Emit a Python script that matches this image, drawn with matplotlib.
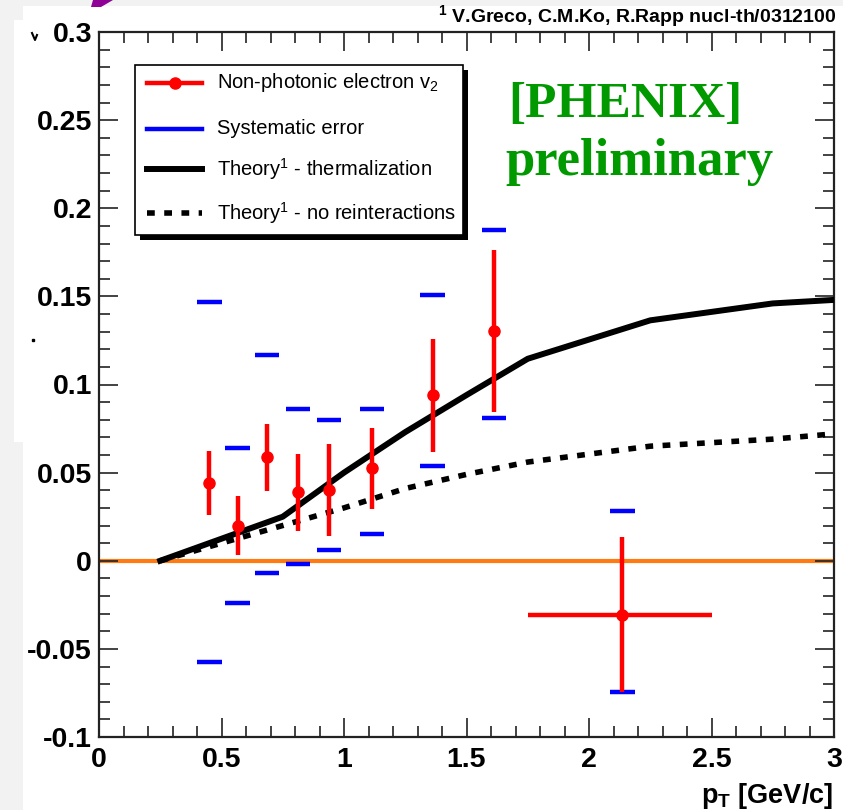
import matplotlib
matplotlib.use("Agg")
import matplotlib.pyplot as plt
from matplotlib.patches import Rectangle, Polygon
from matplotlib.lines import Line2D
from matplotlib.ticker import MultipleLocator, FixedLocator, FixedFormatter

plt.rcParams['font.family'] = ['Liberation Sans', 'DejaVu Sans']
plt.rcParams['mathtext.fontset'] = 'custom'
plt.rcParams['mathtext.rm'] = 'Liberation Sans'
plt.rcParams['mathtext.it'] = 'Liberation Sans:italic'
plt.rcParams['mathtext.bf'] = 'Liberation Sans:bold'

# ---- measured non-photonic electron v2 ----
pt = [0.45, 0.566, 0.686, 0.812, 0.939, 1.114, 1.362, 1.612, 2.136]
v2 = [0.044, 0.020, 0.0586, 0.0388, 0.0403, 0.0526, 0.0938, 0.1305, -0.0306]
stat_err = [0.018, 0.017, 0.019, 0.022, 0.026, 0.023, 0.032, 0.046, 0.044]
pt_err_lo = [0, 0, 0, 0, 0, 0, 0, 0, 0.386]
pt_err_hi = [0, 0, 0, 0, 0, 0, 0, 0, 0.364]
sys_hi = [0.1466, 0.064, 0.1165, 0.0859, 0.0798, 0.0859, 0.1508, 0.1877, 0.028]
sys_lo = [-0.0573, -0.0238, -0.0068, -0.0017, 0.0062, 0.0149, 0.0535, 0.0808, -0.0743]

# ---- model curves (Greco, Ko, Rapp) ----
theory_pt = [0.25, 0.5, 0.75, 1.0, 1.25, 1.5, 1.75, 2.25, 2.75, 3.0]
theory_therm = [0.0, 0.0125, 0.025, 0.050, 0.073, 0.094, 0.1146, 0.1364, 0.146, 0.148]
theory_noreint = [0.0, 0.010, 0.020, 0.030, 0.041, 0.049, 0.056, 0.065, 0.069, 0.072]

yticks = [-0.1, -0.05, 0, 0.05, 0.1, 0.15, 0.2, 0.25, 0.3]
ytick_labels = ['-0.1', '-0.05', '0', '0.05', '0.1', '0.15', '0.2', '0.25', '0.3']
xticks = [0, 0.5, 1, 1.5, 2, 2.5, 3]
xtick_labels = ['0', '0.5', '1', '1.5', '2', '2.5', '3']

legend_labels = ['Non-photonic electron v$_2$', 'Systematic error',
                 'Theory$^1$ - thermalization', 'Theory$^1$ - no reinteractions']

W, H = 843, 810
fig = plt.figure(figsize=(W / 100, H / 100), dpi=100)
fig.patch.set_facecolor('#f2f2f2')


def fx(px):
    return px / W


def fy(py):
    return 1 - py / H


# white slide panels
fig.patches.append(Rectangle((fx(23), 0), 1 - fx(23), fy(6), transform=fig.transFigure,
                             facecolor='white', edgecolor='none', zorder=-10))
fig.patches.append(Rectangle((fx(14), fy(442)), fx(23) - fx(14), fy(20) - fy(442),
                             transform=fig.transFigure, facecolor='white', edgecolor='none', zorder=-10))
fig.patches.append(Polygon([(fx(93), fy(0)), (fx(113), fy(0)), (fx(101), fy(7)), (fx(91), fy(7))],
                           closed=True, transform=fig.transFigure, facecolor='#8e0096',
                           edgecolor='none', zorder=-5))

ax = fig.add_axes([fx(99), fy(737), fx(834) - fx(99), fy(32) - fy(737)])
ax.set_xlim(0, 3)
ax.set_ylim(-0.1, 0.3)

# zero line
ax.axhline(0, color='#ff7b12', lw=3, zorder=1)

# model curves
ax.plot(theory_pt, theory_therm, color='black', lw=4.3, solid_joinstyle='round', zorder=3)
ax.plot(theory_pt, theory_noreint, color='black', lw=4.0, dashes=(1.4, 1.7), zorder=3)

# systematic error bars
for x, hi, lo in zip(pt, sys_hi, sys_lo):
    ax.hlines([hi, lo], x - 0.05, x + 0.05, color='#0000ff', lw=3.2, zorder=4)

# data points with statistical errors
ax.errorbar(pt, v2, yerr=stat_err, xerr=[pt_err_lo, pt_err_hi], fmt='o', color='#ff0000',
            ms=8, elinewidth=3.2, capsize=0, zorder=5)

# axes styling
for s in ax.spines.values():
    s.set_linewidth(1.6)
    s.set_color('#222222')
ax.xaxis.set_major_locator(FixedLocator(xticks))
ax.xaxis.set_major_formatter(FixedFormatter(xtick_labels))
ax.yaxis.set_major_locator(FixedLocator(yticks))
ax.yaxis.set_major_formatter(FixedFormatter(ytick_labels))
ax.xaxis.set_minor_locator(MultipleLocator(0.1))
ax.yaxis.set_minor_locator(MultipleLocator(0.01))
ax.tick_params(which='both', direction='in', top=True, right=True, color='#222222')
ax.tick_params(which='major', length=14, width=1.2)
ax.tick_params(which='minor', length=8, width=1.2)
ax.tick_params(axis='x', which='major', pad=7)
ax.tick_params(axis='y', which='major', pad=5)
for lab in ax.get_xticklabels() + ax.get_yticklabels():
    lab.set_fontsize(20.5)
    lab.set_fontweight('bold')

# x-axis title
fig.text(fx(833), fy(803), r'$\mathbf{p_{T}}$ [GeV/c]', ha='right', va='baseline',
         fontsize=19.5, fontweight='bold')

# reference line at top
fig.text(fx(836), fy(22), r'$^\mathbf{1}$ V.Greco, C.M.Ko, R.Rapp nucl-th/0312100', ha='right',
         va='baseline', fontsize=14, fontweight='bold')

# PHENIX preliminary tag
fig.text(fx(508), fy(117), '[PHENIX]', ha='left', va='baseline', fontsize=37,
         fontweight='bold', family='Liberation Serif', color='#009900')
fig.text(fx(505), fy(175), 'preliminary', ha='left', va='baseline', fontsize=38,
         fontweight='bold', family='Liberation Serif', color='#009900')

# legend box with shadow
bx0, by0, bx1, by1 = 135, 65, 463, 235
fig.patches.append(Rectangle((fx(bx0 + 5), fy(by1 + 5)), fx(bx1) - fx(bx0), fy(by0) - fy(by1),
                             transform=fig.transFigure, facecolor='black', edgecolor='none', zorder=20))
fig.patches.append(Rectangle((fx(bx0), fy(by1)), fx(bx1) - fx(bx0), fy(by0) - fy(by1),
                             transform=fig.transFigure, facecolor='white', edgecolor='black',
                             lw=1.2, zorder=21))
rows = [83, 129, 169, 213]
hx0, hx1 = 147, 202
fig.lines.append(Line2D([fx(hx0), fx(hx1)], [fy(rows[0])] * 2, transform=fig.transFigure,
                        color='#ff0000', lw=3.2, zorder=22))
fig.lines.append(Line2D([fx((hx0 + hx1) / 2)], [fy(rows[0])], transform=fig.transFigure,
                        marker='o', ms=8, color='#ff0000', zorder=23))
fig.lines.append(Line2D([fx(hx0), fx(hx1)], [fy(rows[1])] * 2, transform=fig.transFigure,
                        color='#0000ff', lw=3.2, zorder=22))
fig.lines.append(Line2D([fx(hx0), fx(hx1)], [fy(rows[2])] * 2, transform=fig.transFigure,
                        color='black', lw=4.3, zorder=22))
fig.lines.append(Line2D([fx(hx0), fx(hx1)], [fy(rows[3])] * 2, transform=fig.transFigure,
                        color='black', lw=4.0, dashes=(1.4, 1.7), zorder=22))
for r, lab in zip(rows, legend_labels):
    fig.text(fx(217), fy(r), lab, ha='left', va='center', fontsize=14.5, zorder=24)

# small stray marks left of the axis
fig.lines.append(Line2D([fx(32), fx(35), fx(37)], [fy(33), fy(40), fy(35)],
                        transform=fig.transFigure, color='black', lw=1.5))
fig.lines.append(Line2D([fx(33)], [fy(340)], transform=fig.transFigure, marker='s', ms=1.5,
                        color='black'))

fig.savefig('out.png', dpi=100, facecolor=fig.get_facecolor())
